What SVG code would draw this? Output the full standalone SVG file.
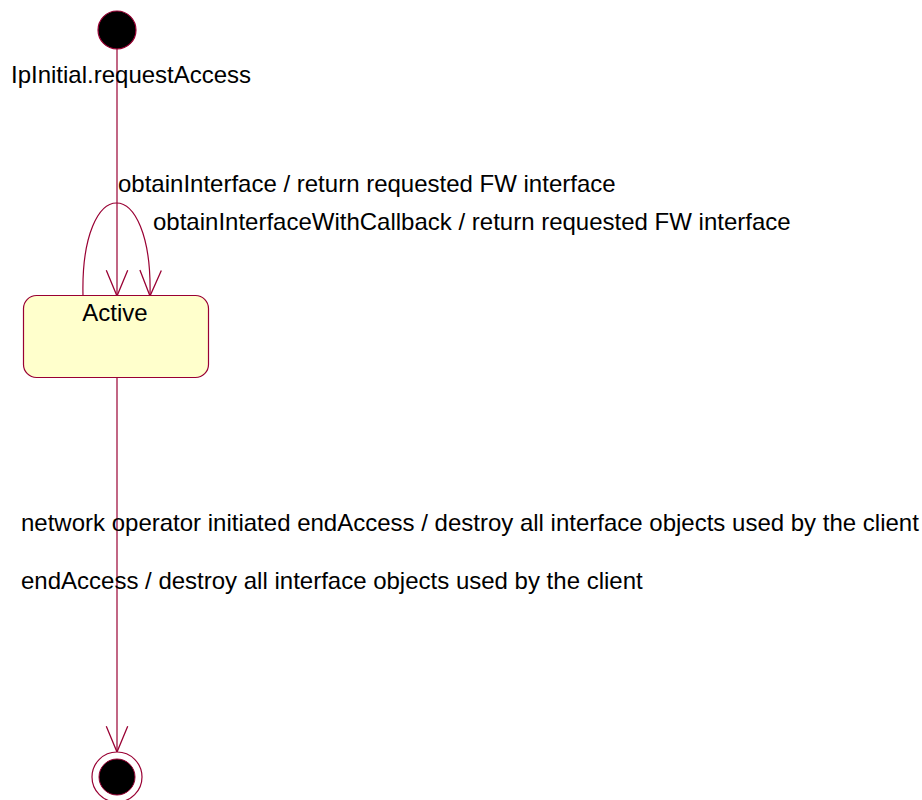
<svg xmlns="http://www.w3.org/2000/svg" width="922" height="800" viewBox="0 0 922 800">
<defs>
<style>
.ln{fill:none;stroke:#990033;stroke-width:1.2}
.lbl{font-family:"Liberation Sans",Arial,sans-serif;font-size:24px;fill:#000}
</style>
<marker id="arr" markerUnits="userSpaceOnUse" markerWidth="30" markerHeight="30" refX="0" refY="0" viewBox="-26 -12 28 24" orient="auto" overflow="visible">
<path d="M-24,-10 L0,0 L-24,10" fill="none" stroke="#990033" stroke-width="1.2"/>
</marker>
</defs>
<rect width="922" height="800" fill="#fff"/>
<g id="connectors">
<path class="ln" d="M117,49 L117,296" marker-end="url(#arr)"/>
<path class="ln" d="M83,296 C80,172 153,172 150,296" marker-end="url(#arr)"/>
<path class="ln" d="M117,378 L117,752" marker-end="url(#arr)"/>
</g>
<g id="initial">
<circle cx="117" cy="30" r="19" fill="#000" stroke="#990033" stroke-width="1.2"/>
</g>
<g id="active">
<rect x="23.5" y="295.5" width="185" height="82" rx="13" ry="13" fill="#FFFFCC" stroke="#990033" stroke-width="1.2"/>
<text class="lbl" x="115" y="321" text-anchor="middle">Active</text>
</g>
<g id="final">
<circle cx="117" cy="777" r="25" fill="#fff" stroke="#990033" stroke-width="1.2"/>
<circle cx="117" cy="777" r="18" fill="#000" stroke="#990033" stroke-width="1"/>
</g>
<g id="labels">
<text class="lbl" x="11" y="83">IpInitial.requestAccess</text>
<text class="lbl" x="118" y="192">obtainInterface / return requested FW interface</text>
<text class="lbl" x="153" y="230">obtainInterfaceWithCallback / return requested FW interface</text>
<text class="lbl" x="21" y="531">network operator initiated endAccess / destroy all interface objects used by the client</text>
<text class="lbl" x="21" y="589">endAccess / destroy all interface objects used by the client</text>
</g>
</svg>
